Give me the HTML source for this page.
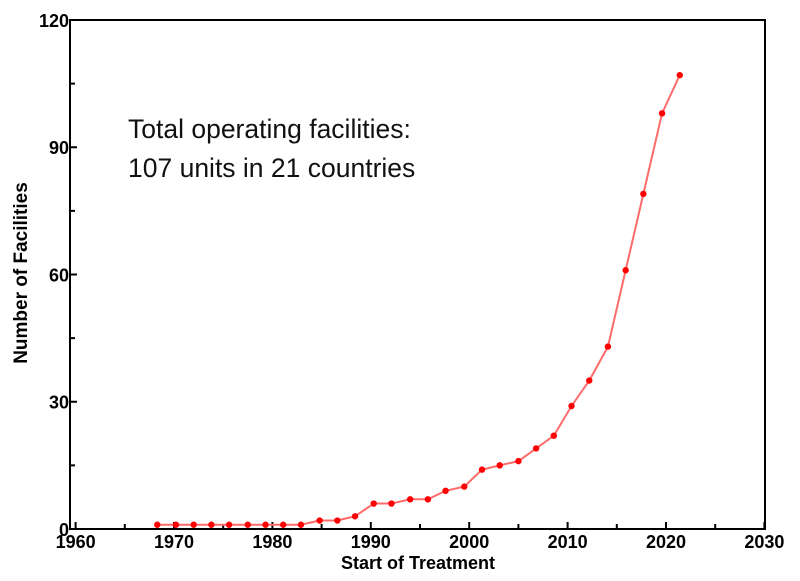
<!DOCTYPE html>
<html><head><meta charset="utf-8"><style>
html,body{margin:0;padding:0;background:#fff;}
svg{display:block;font-family:"Liberation Sans",sans-serif;}
</style></head><body>
<svg id="chart" width="800" height="581">
<g id="axes"></g>
<g id="series"></g>
<text x="128" y="138" font-size="26.5" fill="#111">Total operating facilities:</text>
<text x="128" y="177" font-size="26.5" fill="#111">107 units in 21 countries</text>
<text x="418" y="569" font-size="18" font-weight="bold" text-anchor="middle">Start of Treatment</text>
<text transform="translate(27,273) rotate(-90)" font-size="19" font-weight="bold" text-anchor="middle">Number of Facilities</text>
</svg>
<script>
const years = [1968.3,1970.2,1972,1973.8,1975.6,1977.5,1979.3,1981.1,1982.9,1984.8,1986.6,1988.4,1990.3,1992.1,1994,1995.8,1997.6,1999.5,2001.3,2003.1,2005,2006.8,2008.6,2010.4,2012.2,2014.1,2015.9,2017.7,2019.6,2021.4];
const counts = [1,1,1,1,1,1,1,1,1,2,2,3,6,6,7,7,9,10,14,15,16,19,22,29,35,43,61,79,98,107];
const xTicks = [1960,1970,1980,1990,2000,2010,2020,2030];
const yTicks = [0,30,60,90,120];
const NS='http://www.w3.org/2000/svg';
const X0=75.6, PX=9.84, Y0=529, PY=4.2417;
const L=70, R=765, T=20, B=529;
function sx(v){return X0+(v-1960)*PX;}
function sy(v){return Y0-v*PY;}
function mk(tag,attrs,parent){const e=document.createElementNS(NS,tag);for(const k in attrs)e.setAttribute(k,attrs[k]);parent.appendChild(e);return e;}
const ax=document.getElementById('axes');
const frame=mk('rect',{x:L,y:T,width:R-L,height:B-T,fill:'none',stroke:'#000','stroke-width':2},ax);


for(let v=1960;v<=2030;v+=5){
  const major=v%10===0;
  const t=mk('line',{x1:sx(v),x2:sx(v),y1:B,y2:B-(major?7:5),stroke:'#000','stroke-width':2},ax);
  
  
}
xTicks.forEach(v=>{
  const t=mk('text',{x:sx(v),y:B+19,'font-size':18,'font-weight':'bold','text-anchor':'middle'},ax);
  t.textContent=v;
  
  
});
for(let v=0;v<=120;v+=15){
  const major=v%30===0;
  const t=mk('line',{x1:L,x2:L+(major?7:5),y1:sy(v),y2:sy(v),stroke:'#000','stroke-width':2},ax);
  
  
}
yTicks.forEach(v=>{
  const t=mk('text',{x:L-1,y:sy(v)+7,'font-size':18,'font-weight':'bold','text-anchor':'end'},ax);
  t.textContent=v;
  
  
});
const sg=document.getElementById('series');
const pts=years.map((y,i)=>sx(y)+','+sy(counts[i])).join(' ');
const line=mk('polyline',{points:pts,fill:'none',stroke:'#ff6b6b','stroke-width':2},sg);


years.forEach((y,i)=>{
  const c=mk('circle',{cx:sx(y),cy:sy(counts[i]),r:3.2,fill:'#f00'},sg);
  
  
});
</script>
</body></html>
